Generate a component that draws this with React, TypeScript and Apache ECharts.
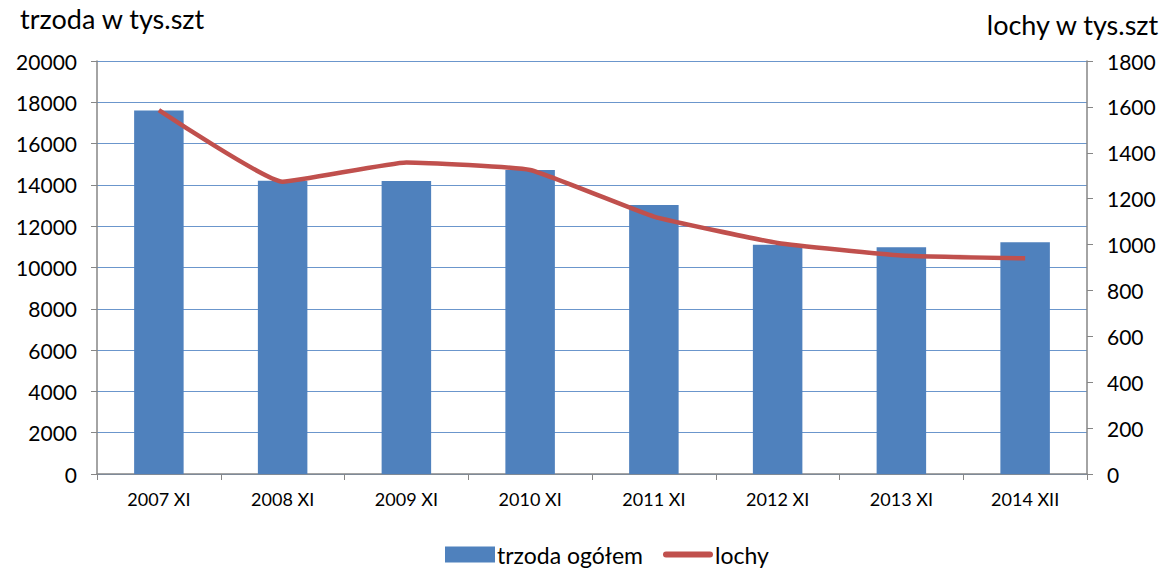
import React, { useEffect, useRef } from "react";
import * as echarts from "echarts";

const categories = ["2007 XI", "2008 XI", "2009 XI", "2010 XI", "2011 XI", "2012 XI", "2013 XI", "2014 XII"];
const trzoda = [17600, 14200, 14190, 14720, 13030, 11100, 10980, 11220];
const lochy = [1586, 1274, 1358, 1325, 1122, 1007, 952, 940];
const leftAxisTitle = "trzoda w tys.szt";
const rightAxisTitle = "lochy w tys.szt";
const seriesNames = ["trzoda ogółem", "lochy"];

const FONT = "Lato, 'Open Sans', sans-serif";

export default function App() {
  const ref = useRef<HTMLDivElement>(null);
  useEffect(() => {
    if (!ref.current) return;
    const chart = echarts.init(ref.current, undefined, { renderer: "svg" });
    chart.setOption({
      animation: false,
      backgroundColor: "#ffffff",
      textStyle: { fontFamily: FONT },
      grid: { left: 97, right: 78, top: 61, bottom: 96 },
      graphic: [
        { type: "text", left: 20, top: 5, style: { text: leftAxisTitle, font: `27px ${FONT}`, fill: "#000" } },
        { type: "text", right: 5, top: 11, style: { text: rightAxisTitle, font: `27px ${FONT}`, fill: "#000" } },
      ],
      legend: {
        bottom: -1,
        left: 440,
        itemGap: 20,
        itemWidth: 50,
        itemHeight: 16,
        symbolKeepAspect: true,
        textStyle: { fontSize: 23, color: "#000", fontFamily: FONT, padding: [0, 0, 0, -3] },
        data: [
          { name: seriesNames[0], icon: "rect" },
          { name: seriesNames[1], icon: "path://M3,0 L47,0 Q50,0 50,3 Q50,6 47,6 L3,6 Q0,6 0,3 Q0,0 3,0 Z" },
        ],
      },
      xAxis: {
        type: "category",
        data: categories,
        boundaryGap: true,
        axisLine: { lineStyle: { color: "#868686", width: 1.5 } },
        axisTick: { show: true, length: 6, lineStyle: { color: "#868686" } },
        axisLabel: { color: "#000", fontSize: 18, margin: 16, fontFamily: FONT },
      },
      yAxis: [
        {
          type: "value",
          min: 0,
          max: 20000,
          interval: 2000,
          axisLine: { show: true, lineStyle: { color: "#868686", width: 1.5 } },
          axisTick: { show: true, length: 6, lineStyle: { color: "#868686" } },
          axisLabel: { color: "#000", fontSize: 21, margin: 20, fontFamily: FONT, formatter: (v: number) => String(v) },
          splitLine: { show: true, lineStyle: { color: "#6b96cc", width: 1.2 } },
        },
        {
          type: "value",
          min: 0,
          max: 1800,
          interval: 200,
          position: "right",
          axisLine: { show: true, lineStyle: { color: "#868686", width: 1.5 } },
          axisTick: { show: true, length: 6, lineStyle: { color: "#868686" } },
          axisLabel: { color: "#000", fontSize: 21, margin: 20, fontFamily: FONT, formatter: (v: number) => String(v) },
          splitLine: { show: false },
        },
      ],
      series: [
        {
          name: seriesNames[0],
          type: "bar",
          data: trzoda,
          barWidth: "40%",
          itemStyle: { color: "#4f81bd" },
        },
        {
          name: seriesNames[1],
          type: "line",
          yAxisIndex: 1,
          data: lochy,
          smooth: 0.12,
          symbol: "none",
          lineStyle: { color: "#c0504d", width: 4.5 },
          itemStyle: { color: "#c0504d" },
        },
      ],
    });
    return () => chart.dispose();
  }, []);
  return <div ref={ref} style={{ position: "fixed", left: 0, top: 0, width: 1165, height: 570 }} />;
}
